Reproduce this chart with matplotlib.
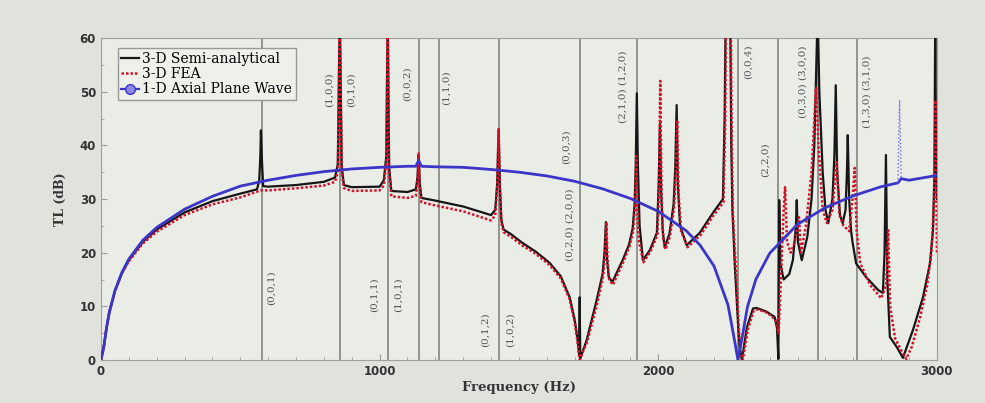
import matplotlib
matplotlib.use("Agg")
import matplotlib.pyplot as plt
from matplotlib.lines import Line2D
from matplotlib.ticker import MultipleLocator

# ============================================================
# Data
# ============================================================
# 1-D axial plane wave model
blue_f = [0, 10, 20, 30, 50, 75, 100, 150, 200, 300, 400, 500, 600, 700, 800, 900,
          1000, 1100, 1130, 1140, 1150, 1200, 1300, 1400, 1500, 1600, 1700, 1800,
          1900, 2000, 2100, 2150, 2200, 2250, 2270, 2286, 2300, 2320, 2350, 2400,
          2500, 2600, 2700, 2800, 2860, 2872, 2900, 3000]
blue_tl = [0, 2.4, 6.0, 8.9, 12.9, 16.3, 18.8, 22.3, 24.7, 28.1, 30.5, 32.4, 33.5,
           34.4, 35.1, 35.6, 35.9, 36.1, 36.1, 37.2, 36.1, 36.0, 35.9, 35.5, 35.0,
           34.3, 33.3, 31.9, 30.1, 27.7, 24.1, 21.4, 17.5, 10.3, 4.7, 0, 3.9, 9.9,
           15.0, 19.9, 25.3, 28.4, 30.6, 32.3, 33.0, 33.8, 33.5, 34.4]
# thin spurious spike of the plane-wave curve
blue_spike_f = [2860, 2866, 2872]
blue_spike_tl = [33.0, 48.4, 33.8]

# 3-D semi-analytical model
black_f = [0, 10, 20, 30, 50, 75, 100, 150, 200, 300, 400, 500, 560, 568, 572, 574,
           577, 582, 600, 700, 800, 840, 850, 857, 864, 872, 900, 1000, 1015, 1024,
           1029, 1034, 1042, 1100, 1130, 1136, 1140, 1144, 1150, 1200, 1300, 1400,
           1415, 1422, 1427, 1432, 1437, 1445, 1470, 1513, 1560, 1610, 1650, 1682,
           1700, 1710, 1716, 1718, 1720, 1725, 1743, 1779, 1800, 1807, 1812, 1816,
           1822, 1835, 1872, 1895, 1908, 1915, 1919, 1923, 1927, 1933, 1945, 1970,
           1995, 2001, 2006, 2010, 2016, 2023, 2040, 2055, 2061, 2066, 2070, 2078,
           2102, 2149, 2196, 2232, 2238, 2242, 2258, 2262, 2266, 2275, 2287, 2293,
           2300, 2318, 2340, 2353, 2389, 2418, 2426, 2431, 2434, 2438, 2450, 2470,
           2483, 2494, 2497, 2501, 2515, 2535, 2550, 2560, 2567, 2572, 2578, 2590,
           2600, 2610, 2625, 2632, 2637, 2642, 2652, 2662, 2672, 2677, 2680, 2685,
           2692, 2697, 2710, 2745, 2790, 2806, 2812, 2817, 2822, 2831, 2856, 2878,
           2914, 2950, 2975, 2986, 2991, 2994, 2997, 3000]
black_tl = [0, 2.4, 6.0, 8.9, 12.8, 16.2, 18.6, 22.0, 24.3, 27.5, 29.6, 31.0, 31.8,
            33.5, 38.0, 42.8, 38.0, 32.4, 32.3, 32.6, 33.2, 34.0, 36.5, 65, 36.0,
            32.6, 32.2, 32.3, 33.5, 38.0, 65, 36.0, 31.5, 31.3, 31.8, 34.0, 38.2,
            33.0, 30.2, 29.7, 28.6, 27.0, 28.0, 33.0, 43.0, 32.0, 26.0, 24.3, 23.5,
            21.8, 20.2, 18.1, 15.6, 11.7, 7.5, 4.0, 1.0, 11.7, 0.3, 1.0, 3.7, 11.2,
            16.0, 20.0, 25.7, 19.0, 15.5, 14.5, 18.6, 21.5, 24.5, 29.0, 36.0, 49.7,
            36.0, 25.0, 18.6, 20.5, 23.7, 32.0, 44.0, 32.0, 24.0, 21.0, 23.5, 29.0,
            36.0, 47.5, 33.0, 25.0, 21.4, 23.7, 27.4, 30.0, 45.0, 65, 65, 40.0, 28.0,
            17.3, 6.0, 1.9, 0, 6.1, 9.6, 9.7, 9.0, 8.0, 6.0, 0.2, 29.8, 18.0, 15.0,
            16.0, 18.6, 25.0, 29.8, 22.0, 18.6, 23.0, 30.0, 40.0, 55.0, 65, 50.0,
            35.0, 28.0, 25.5, 30.0, 38.0, 51.2, 35.0, 27.0, 25.5, 28.0, 35.0, 41.9,
            30.0, 24.0, 22.0, 18.0, 15.5, 13.0, 12.5, 20.0, 38.2, 15.0, 4.3, 2.4,
            0.4, 5.6, 11.7, 18.0, 24.2, 35.0, 65, 35.0, 30.0]

# 3-D FEA model
red_f = [0, 10, 20, 30, 50, 75, 100, 150, 200, 300, 400, 500, 574, 600, 700, 800,
         840, 850, 857, 864, 872, 900, 1000, 1015, 1024, 1029, 1034, 1042, 1100,
         1130, 1136, 1140, 1144, 1150, 1200, 1300, 1400, 1415, 1422, 1427, 1432,
         1437, 1445, 1470, 1513, 1560, 1610, 1650, 1682, 1700, 1710, 1718, 1725,
         1745, 1782, 1802, 1809, 1814, 1818, 1824, 1837, 1874, 1897, 1910, 1917,
         1921, 1925, 1931, 1947, 1972, 1997, 2003, 2007, 2012, 2018, 2026, 2042,
         2057, 2063, 2068, 2073, 2082, 2105, 2152, 2199, 2234, 2240, 2244, 2260,
         2264, 2268, 2279, 2290, 2296, 2303, 2322, 2343, 2357, 2392, 2420, 2432,
         2440, 2450, 2455, 2462, 2475, 2490, 2505, 2512, 2530, 2550, 2560, 2566,
         2575, 2590, 2605, 2625, 2640, 2650, 2665, 2685, 2697, 2705, 2712, 2725,
         2760, 2800, 2818, 2825, 2832, 2850, 2875, 2890, 2910, 2940, 2965, 2980,
         2990, 2995, 3000]
red_tl = [0, 2.4, 6.0, 8.9, 12.8, 16.1, 18.4, 21.7, 23.9, 27.0, 29.0, 30.3, 31.6,
          31.6, 32.0, 32.5, 33.2, 35.0, 65, 35.0, 32.0, 31.5, 31.6, 32.5, 37.0, 65,
          35.0, 30.5, 30.2, 30.6, 33.0, 38.5, 32.0, 29.4, 28.8, 27.7, 26.0, 27.0,
          32.0, 43.0, 31.0, 25.5, 23.8, 23.0, 21.3, 19.8, 17.7, 15.2, 11.3, 7.0,
          3.5, 0, 1.0, 3.4, 10.8, 15.6, 19.5, 25.7, 18.5, 15.0, 14.0, 18.2, 21.2,
          24.0, 28.5, 38.0, 28.0, 22.0, 18.2, 20.2, 23.3, 32.0, 52.0, 30.0, 22.5,
          20.6, 23.0, 28.5, 35.0, 44.7, 31.0, 24.0, 21.0, 23.3, 27.0, 29.4, 44.0,
          65, 65, 40.0, 27.0, 16.5, 5.0, 1.5, 0, 5.8, 9.2, 9.4, 8.8, 7.5, 5.0, 15.0,
          28.0, 32.2, 22.0, 20.0, 22.0, 26.6, 20.0, 25.0, 35.0, 45.0, 50.7, 40.0,
          28.0, 25.5, 28.0, 36.9, 27.0, 25.0, 24.0, 30.0, 35.8, 24.0, 18.0, 14.0,
          11.5, 14.0, 24.2, 10.0, 4.0, 1.5, 0.2, 2.5, 8.0, 14.0, 20.0, 30.0, 48.4,
          20.0]

# Cut-on frequencies of the chamber modes (grey lines)
mode_f = [577, 857, 1029, 1140, 1212, 1427, 1718, 1923, 2286, 2429, 2573, 2713]

# Mode labels: text, frequency, TL position
mode_labels = ["(0,0,1)", "(1,0,0)", "(0,1,0)", "(0,1,1)", "(1,0,1)", "(0,0,2)",
               "(1,1,0)", "(0,1,2)", "(1,0,2)", "(0,0,3)", "(0,2,0) (2,0,0)",
               "(2,1,0) (1,2,0)", "(0,0,4)", "(2,2,0)", "(0,3,0) (3,0,0)",
               "(1,3,0) (3,1,0)"]
label_f = [612, 820, 899, 982, 1065, 1100, 1237, 1377, 1467, 1671, 1682, 1873,
           2321, 2382, 2519, 2749]
label_tl = [13.4, 50.3, 50.3, 12.1, 12.1, 51.4, 50.7, 5.6, 5.6, 39.7, 25.2, 50.9,
            55.5, 37.3, 51.8, 50.0]

# ============================================================
# Plot
# ============================================================
fig = plt.figure(figsize=(9.85, 4.03), dpi=100, facecolor="#dfe3dc")
ax = fig.add_axes([0.1025, 0.1067, 0.8487, 0.799], facecolor="#eaede6")

for f in mode_f:
    ax.axvline(f, color="#8a8d88", lw=1.3, zorder=1)

ax.plot(black_f, black_tl, color="#161616", lw=1.6, zorder=3)
ax.plot(red_f, red_tl, color="#d0142c", lw=1.8, ls=(0, (1, 0.8)), zorder=4)
ax.plot(blue_f, blue_tl, color="#3b35c8", lw=2.0, zorder=5)
ax.plot(blue_spike_f, blue_spike_tl, color="#6f6ad8", lw=1.0, ls=":", zorder=5)

for txt, f, tl in zip(mode_labels, label_f, label_tl):
    ax.text(f, tl, txt, rotation=90, ha="center", va="center", fontsize=7.5,
            family="DejaVu Serif", color="#555555", zorder=2)

ax.set_xlim(0, 3000)
ax.set_ylim(0, 60)
ax.xaxis.set_major_locator(MultipleLocator(1000))
ax.xaxis.set_minor_locator(MultipleLocator(100))
ax.yaxis.set_major_locator(MultipleLocator(10))
ax.yaxis.set_minor_locator(MultipleLocator(5))
ax.tick_params(which="both", direction="in", color="#9a9a9a")
ax.tick_params(which="major", length=4, labelsize=8.5)
ax.tick_params(which="minor", length=2)
for lab in ax.get_xticklabels() + ax.get_yticklabels():
    lab.set_fontweight("bold")
    lab.set_color("#333333")
for s in ax.spines.values():
    s.set_color("#a0a0a0")

ax.set_xlabel("Frequency (Hz)", family="DejaVu Serif", fontweight="bold",
              fontsize=9.5, color="#333333", labelpad=2)
ax.set_ylabel("TL (dB)", family="DejaVu Serif", fontweight="bold",
              fontsize=9, color="#333333", labelpad=9)

handles = [
    Line2D([], [], color="#161616", lw=1.6),
    Line2D([], [], color="#d0142c", lw=1.8, ls=(0, (1, 0.8))),
    Line2D([], [], color="#3b35c8", lw=1.6, marker="o", ms=7, mfc="#8c88e6"),
]
leg = ax.legend(handles, ["3-D Semi-analytical", "3-D FEA", "1-D Axial Plane Wave"],
                loc="upper left", bbox_to_anchor=(0.012, 0.99), fancybox=False,
                framealpha=1, edgecolor="#999999", handlelength=1.3,
                handletextpad=0.2, borderpad=0.25, labelspacing=0.1,
                prop={"family": "DejaVu Serif", "size": 10})
leg.get_frame().set_facecolor("#eef0ea")
leg.set_zorder(10)

fig.savefig("out.png", dpi=100, facecolor=fig.get_facecolor())
